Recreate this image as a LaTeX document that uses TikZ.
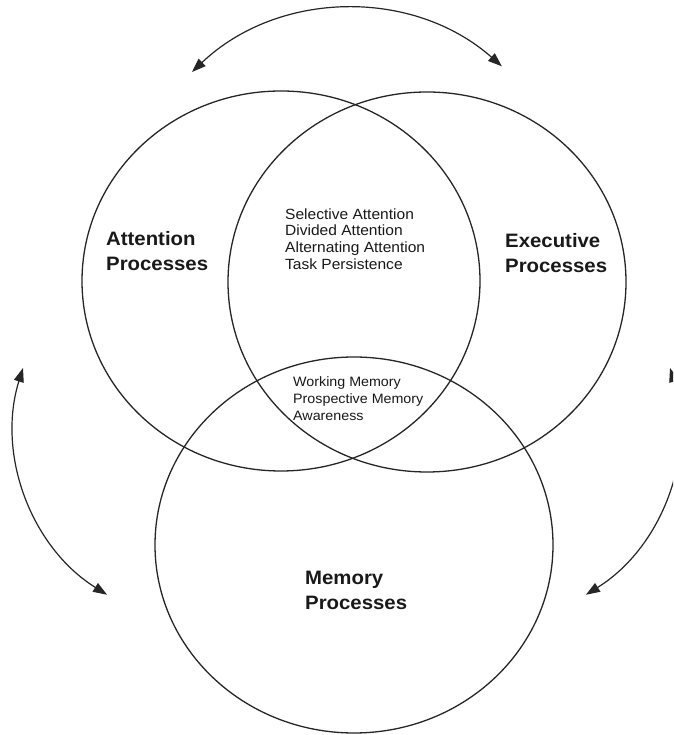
\documentclass[tikz,border=0pt]{standalone}
\usepackage{fontspec}
\setmainfont{Liberation Sans}
\usetikzlibrary{arrows.meta,shapes.geometric}
\newcommand{\widetext}[1]{\scalebox{1.05}[1]{\begin{tabular}[t]{@{}l@{}}#1\end{tabular}}}
\begin{document}
\begin{tikzpicture}[x=1pt,y=1pt,
  venn/.style={ellipse, draw=black!85, line width=1.3pt, inner sep=0pt,
               minimum width=398pt, minimum height=380pt},
  conn/.style={draw=black!85, line width=1.2pt,
               {Triangle[length=14pt,width=10pt]}-{Triangle[length=14pt,width=10pt]}},
  biglabel/.style={anchor=base west, inner sep=0pt, text=black!90,
                   font=\fontsize{19.4}{25}\selectfont\bfseries},
  smalllabel/.style={anchor=base west, inner sep=0pt, text=black!90,
                     font=\fontsize{14.8}{16.7}\selectfont},
  tinylabel/.style={anchor=base west, inner sep=0pt, text=black!90,
                     font=\fontsize{13.6}{16.7}\selectfont}]
\useasboundingbox (0,0) rectangle (673,735);
\fill[white] (0,0) rectangle (673,735);
\clip (0,0) rectangle (673,735);

% circles
\node[venn] (att) at (281,454) {};
\node[venn] (exe) at (427,453) {};
\node[venn, minimum height=376pt] (mem) at (354,190) {};

% labels
\node[biglabel] (attlab) at (106,489.5) {\widetext{Attention\\Processes}};
\node[biglabel] (exelab) at (505,487) {\widetext{Executive\\Processes}};
\node[biglabel] (memlab) at (305,150) {\widetext{Memory\\Processes}};

\node[smalllabel] (ae) at (285,515.7) {\widetext{Selective Attention\\Divided Attention\\Alternating Attention\\Task Persistence}};
\node[tinylabel] (aem) at (293,348) {\widetext{Working Memory\\Prospective Memory\\Awareness}};

% arrows
\coordinate (topL) at (192,663);
\coordinate (leftT) at (23,367);
\coordinate (rightT) at (670,367);
\draw[conn] (topL) arc[start angle=133.5, end angle=48.6, radius=229.6];
\draw[conn] (leftT) arc[start angle=162.7, end angle=238, radius=198];
\draw[conn] (rightT) arc[start angle=17.3, end angle=-58, radius=198];
\end{tikzpicture}
\end{document}
